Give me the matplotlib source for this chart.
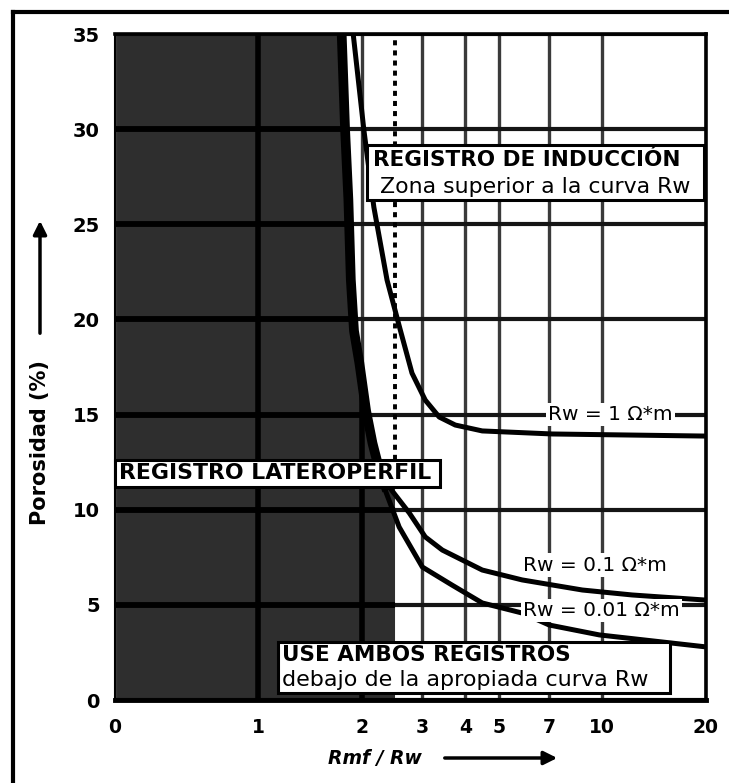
import numpy as np
import matplotlib
matplotlib.use("Agg")
import matplotlib.pyplot as plt
from matplotlib.patches import Rectangle, FancyArrowPatch

plt.rcParams['font.family'] = ['DejaVu Sans']

# ---------------- data ----------------
x_ticks = [0, 1, 2, 3, 4, 5, 7, 10, 20]
x_tick_labels = ['0', '1', '2', '3', '4', '5', '7', '10', '20']
y_ticks = [0, 5, 10, 15, 20, 25, 30, 35]

# thick limit curve (right edge of the laterolog zone)
limit_x = [1.75, 1.79, 1.83, 1.86, 1.90, 1.97, 2.06, 2.15, 2.25, 2.37]
limit_y = [35.0, 30.0, 26.3, 22.1, 19.4, 17.7, 15.2, 13.5, 12.1, 11.0]

# Rw = 1 ohm*m
rw1_x = [1.89, 2.03, 2.17, 2.37, 2.59, 2.80, 3.06, 3.36, 3.74, 4.48, 7.16, 20.0]
rw1_y = [35.0, 29.95, 25.9, 22.07, 19.44, 17.18, 15.76, 14.87, 14.45, 14.14, 13.98, 13.87]

# Rw = 0.1 ohm*m
rw01_x = [2.25, 2.45, 2.75, 3.06, 3.43, 4.48, 5.85, 8.75, 12.2, 20.0]
rw01_y = [12.1, 11.0, 9.83, 8.57, 7.88, 6.83, 6.31, 5.78, 5.52, 5.25]

# Rw = 0.01 ohm*m
rw001_x = [2.25, 2.34, 2.57, 3.00, 3.66, 4.48, 5.85, 7.01, 9.80, 14.9, 20.0]
rw001_y = [12.1, 11.04, 9.09, 6.99, 6.04, 5.10, 4.57, 3.94, 3.42, 3.05, 2.79]

# below the laterolog label the dark zone extends to Rmf/Rw = 2.5
both_limit_x = 2.5

# ---------------- scale ----------------
K = 0.4153


def fwd(x):
    x = np.asarray(x, dtype=float)
    return np.where(x < 1, (x - 1) * K, np.log10(np.maximum(x, 1e-9)))


def inv(y):
    y = np.asarray(y, dtype=float)
    return np.where(y < 0, 1 + y / K, 10 ** np.maximum(y, 0))


W, H = 729, 783
fig = plt.figure(figsize=(W / 100, H / 100), dpi=100)
ax = fig.add_axes([115 / W, 1 - 700 / H, 591 / W, 666 / H])
ax.set_xscale('function', functions=(fwd, inv))
ax.set_xlim(0, 20)
ax.set_ylim(0, 35)

dark = '#2e2e2e'
# laterolog zone fill
zone_x = [0] + limit_x[:-1] + [both_limit_x, both_limit_x, 0]
zone_y = [limit_y[0]] + limit_y[:-1] + [limit_y[-2], 0, 0]
zone = ax.fill(zone_x, zone_y, color=dark, lw=0, zorder=1)[0]

# grid
ax.set_axisbelow(False)
ax.set_xticks(x_ticks)
ax.set_xticklabels(x_tick_labels)
ax.set_yticks(y_ticks)
ax.grid(True, axis='y', color='#151515', lw=3.0)
ax.grid(True, axis='x', color='#3a3a3a', lw=2.4)

# black grid lines inside the dark zone
for xv in x_ticks[1:3]:
    ln = ax.axvline(xv, color='black', lw=4, zorder=2.6)
    ln.set_clip_path(zone)
for yv in y_ticks[1:-1]:
    ln = ax.axhline(yv, color='black', lw=4.2, zorder=2.6)
    ln.set_clip_path(zone)

# dotted line at Rmf/Rw = 2.5
ax.plot([both_limit_x, both_limit_x], [limit_y[-2], 35], color='black', lw=2.8,
        linestyle=(0, (1.3, 1.3)), zorder=2.8)

# curves
ax.plot(limit_x, limit_y, color='black', lw=7, zorder=3, solid_capstyle='butt')
ax.plot(rw1_x, rw1_y, color='black', lw=3.6, zorder=3)
ax.plot(rw01_x, rw01_y, color='black', lw=3.6, zorder=3)
ax.plot(rw001_x, rw001_y, color='black', lw=3.6, zorder=3)

# ticks
ax.tick_params(axis='both', length=0)
ax.tick_params(axis='y', pad=11, labelsize=14)
ax.tick_params(axis='x', pad=13, labelsize=13.5)
for lab in ax.get_xticklabels() + ax.get_yticklabels():
    lab.set_fontweight('bold')

for side, lw in [('top', 2.6), ('bottom', 3.5), ('right', 2.6), ('left', 1.5)]:
    ax.spines[side].set_linewidth(lw)
    ax.spines[side].set_color('black')
    ax.spines[side].set_zorder(4)


def box(x0, y0, x1, y1):
    ax.add_patch(Rectangle((x0, y0), x1 - x0, y1 - y0, transform=ax.transAxes,
                           fc='white', ec='black', lw=2.2, zorder=5, clip_on=False))


# REGISTRO DE INDUCCION box
box(0.4264, 0.7508, 0.9966, 0.8333)
ax.text(0.4365, 0.8108, 'REGISTRO DE INDUCCIÓN', transform=ax.transAxes,
        fontsize=15.5, fontweight='bold', va='center', ha='left', zorder=6)
ax.text(0.4484, 0.7703, 'Zona superior a la curva Rw', transform=ax.transAxes,
        fontsize=15.8, va='center', ha='left', zorder=6)

# REGISTRO LATEROPERFIL box
box(0.0, 0.3198, 0.5499, 0.3604)
ax.text(0.006, 0.3401, 'REGISTRO LATEROPERFIL', transform=ax.transAxes,
        fontsize=15.8, fontweight='bold', va='center', ha='left', zorder=6)

# USE AMBOS REGISTROS box
box(0.2758, 0.0105, 0.9391, 0.0871)
ax.text(0.2826, 0.0676, 'USE AMBOS REGISTROS', transform=ax.transAxes,
        fontsize=15.5, fontweight='bold', va='center', ha='left', zorder=6)
ax.text(0.2826, 0.0300, 'debajo de la apropiada curva Rw', transform=ax.transAxes,
        fontsize=16, va='center', ha='left', zorder=6)

# Rw labels
lab_kw = dict(transform=ax.transAxes, fontsize=14.5, va='center', ha='left', zorder=6,
              bbox=dict(boxstyle='square,pad=0.1', fc='white', ec='none'))
ax.text(0.7327, 0.4294, 'Rw = 1 Ω*m', **lab_kw)
ax.text(0.6904, 0.2027, 'Rw = 0.1 Ω*m', **lab_kw)
ax.text(0.6904, 0.1351, 'Rw = 0.01 Ω*m', **lab_kw)

# axis labels with arrows
fig.text(40 / W, 1 - 443 / H, 'Porosidad (%)', rotation=90, fontsize=15,
         fontweight='bold', ha='center', va='center')
fig.patches.append(FancyArrowPatch(
    (40 / W, 1 - 336 / H), (40 / W, 1 - 218 / H), transform=fig.transFigure,
    arrowstyle='-|>,head_length=8,head_width=4', color='black', lw=2.5))

fig.text(375 / W, 1 - 759 / H, 'Rmf / Rw', fontsize=13.5, fontweight='bold',
         style='italic', ha='center', va='center')
fig.patches.append(FancyArrowPatch(
    (442 / W, 1 - 758 / H), (560 / W, 1 - 758 / H), transform=fig.transFigure,
    arrowstyle='-|>,head_length=8,head_width=4', color='black', lw=2.5))

# outer frame
fig.add_artist(plt.Line2D([13 / W, 1.0], [1 - 12 / H, 1 - 12 / H], transform=fig.transFigure,
                          color='black', lw=3))
fig.add_artist(plt.Line2D([13 / W, 13 / W], [1 - 12 / H, 0.0], transform=fig.transFigure,
                          color='black', lw=3))

fig.savefig('out.png', dpi=100)
